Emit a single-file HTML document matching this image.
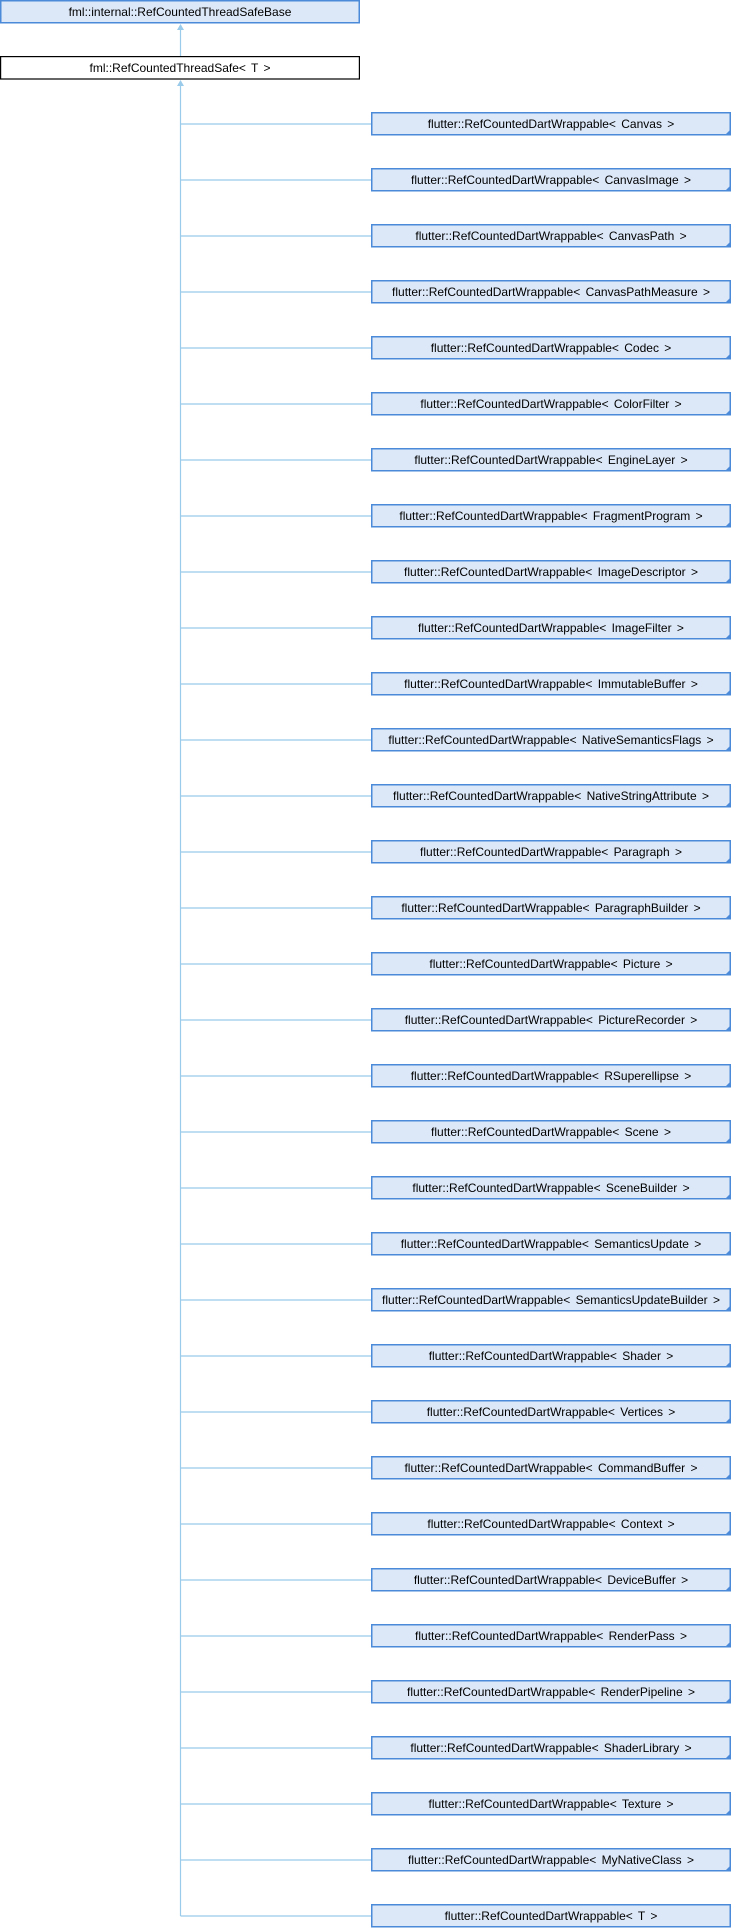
<!DOCTYPE html>
<html><head><meta charset="utf-8"><style>
html,body{margin:0;padding:0;background:#fff;}
svg{display:block;}
text{font-family:"Liberation Sans",sans-serif;font-size:12px;fill:#000;word-spacing:2px;}
.b{fill:#DCE8F8;stroke:#4A8AD8;stroke-width:1.5;}
.w{fill:#fff;stroke:#000;stroke-width:1.2;}
.l{stroke:#9BCBEA;stroke-width:1.2;fill:none;}
.c{fill:#4A8AD8;}
</style></head><body>
<svg width="732" height="1928" viewBox="0 0 732 1928" xmlns="http://www.w3.org/2000/svg">
<rect class="b" x="0.75" y="0.75" width="358.5" height="22"/>
<text x="180" y="16" text-anchor="middle">fml::internal::RefCountedThreadSafeBase</text>
<line class="l" x1="180.5" y1="26" x2="180.5" y2="56"/>
<polygon points="180.5,24 177,30 184,30" fill="#9BCBEA"/>
<rect class="w" x="0.6" y="56.6" width="358.8" height="22.4"/>
<text x="180" y="72" text-anchor="middle">fml::RefCountedThreadSafe&lt; T &gt;</text>
<line class="l" x1="180.5" y1="82" x2="180.5" y2="1916"/>
<polygon points="180.5,80 177,86 184,86" fill="#9BCBEA"/>
<path class="l" d="M180.5 124H371M180.5 180H371M180.5 236H371M180.5 292H371M180.5 348H371M180.5 404H371M180.5 460H371M180.5 516H371M180.5 572H371M180.5 628H371M180.5 684H371M180.5 740H371M180.5 796H371M180.5 852H371M180.5 908H371M180.5 964H371M180.5 1020H371M180.5 1076H371M180.5 1132H371M180.5 1188H371M180.5 1244H371M180.5 1300H371M180.5 1356H371M180.5 1412H371M180.5 1468H371M180.5 1524H371M180.5 1580H371M180.5 1636H371M180.5 1692H371M180.5 1748H371M180.5 1804H371M180.5 1860H371M180.5 1916H371"/>
<g id="g">
<rect class="b" x="371.75" y="112.75" width="358.5" height="22"/><polygon class="c" points="731,129 731,135 725,135"/><text x="551" y="128" text-anchor="middle">flutter::RefCountedDartWrappable&lt; Canvas &gt;</text>
<rect class="b" x="371.75" y="168.75" width="358.5" height="22"/><polygon class="c" points="731,185 731,191 725,191"/><text x="551" y="184" text-anchor="middle">flutter::RefCountedDartWrappable&lt; CanvasImage &gt;</text>
<rect class="b" x="371.75" y="224.75" width="358.5" height="22"/><polygon class="c" points="731,241 731,247 725,247"/><text x="551" y="240" text-anchor="middle">flutter::RefCountedDartWrappable&lt; CanvasPath &gt;</text>
<rect class="b" x="371.75" y="280.75" width="358.5" height="22"/><polygon class="c" points="731,297 731,303 725,303"/><text x="551" y="296" text-anchor="middle">flutter::RefCountedDartWrappable&lt; CanvasPathMeasure &gt;</text>
<rect class="b" x="371.75" y="336.75" width="358.5" height="22"/><polygon class="c" points="731,353 731,359 725,359"/><text x="551" y="352" text-anchor="middle">flutter::RefCountedDartWrappable&lt; Codec &gt;</text>
<rect class="b" x="371.75" y="392.75" width="358.5" height="22"/><polygon class="c" points="731,409 731,415 725,415"/><text x="551" y="408" text-anchor="middle">flutter::RefCountedDartWrappable&lt; ColorFilter &gt;</text>
<rect class="b" x="371.75" y="448.75" width="358.5" height="22"/><polygon class="c" points="731,465 731,471 725,471"/><text x="551" y="464" text-anchor="middle">flutter::RefCountedDartWrappable&lt; EngineLayer &gt;</text>
<rect class="b" x="371.75" y="504.75" width="358.5" height="22"/><polygon class="c" points="731,521 731,527 725,527"/><text x="551" y="520" text-anchor="middle">flutter::RefCountedDartWrappable&lt; FragmentProgram &gt;</text>
<rect class="b" x="371.75" y="560.75" width="358.5" height="22"/><polygon class="c" points="731,577 731,583 725,583"/><text x="551" y="576" text-anchor="middle">flutter::RefCountedDartWrappable&lt; ImageDescriptor &gt;</text>
<rect class="b" x="371.75" y="616.75" width="358.5" height="22"/><polygon class="c" points="731,633 731,639 725,639"/><text x="551" y="632" text-anchor="middle">flutter::RefCountedDartWrappable&lt; ImageFilter &gt;</text>
<rect class="b" x="371.75" y="672.75" width="358.5" height="22"/><polygon class="c" points="731,689 731,695 725,695"/><text x="551" y="688" text-anchor="middle">flutter::RefCountedDartWrappable&lt; ImmutableBuffer &gt;</text>
<rect class="b" x="371.75" y="728.75" width="358.5" height="22"/><polygon class="c" points="731,745 731,751 725,751"/><text x="551" y="744" text-anchor="middle">flutter::RefCountedDartWrappable&lt; NativeSemanticsFlags &gt;</text>
<rect class="b" x="371.75" y="784.75" width="358.5" height="22"/><polygon class="c" points="731,801 731,807 725,807"/><text x="551" y="800" text-anchor="middle">flutter::RefCountedDartWrappable&lt; NativeStringAttribute &gt;</text>
<rect class="b" x="371.75" y="840.75" width="358.5" height="22"/><polygon class="c" points="731,857 731,863 725,863"/><text x="551" y="856" text-anchor="middle">flutter::RefCountedDartWrappable&lt; Paragraph &gt;</text>
<rect class="b" x="371.75" y="896.75" width="358.5" height="22"/><polygon class="c" points="731,913 731,919 725,919"/><text x="551" y="912" text-anchor="middle">flutter::RefCountedDartWrappable&lt; ParagraphBuilder &gt;</text>
<rect class="b" x="371.75" y="952.75" width="358.5" height="22"/><polygon class="c" points="731,969 731,975 725,975"/><text x="551" y="968" text-anchor="middle">flutter::RefCountedDartWrappable&lt; Picture &gt;</text>
<rect class="b" x="371.75" y="1008.75" width="358.5" height="22"/><polygon class="c" points="731,1025 731,1031 725,1031"/><text x="551" y="1024" text-anchor="middle">flutter::RefCountedDartWrappable&lt; PictureRecorder &gt;</text>
<rect class="b" x="371.75" y="1064.75" width="358.5" height="22"/><polygon class="c" points="731,1081 731,1087 725,1087"/><text x="551" y="1080" text-anchor="middle">flutter::RefCountedDartWrappable&lt; RSuperellipse &gt;</text>
<rect class="b" x="371.75" y="1120.75" width="358.5" height="22"/><polygon class="c" points="731,1137 731,1143 725,1143"/><text x="551" y="1136" text-anchor="middle">flutter::RefCountedDartWrappable&lt; Scene &gt;</text>
<rect class="b" x="371.75" y="1176.75" width="358.5" height="22"/><polygon class="c" points="731,1193 731,1199 725,1199"/><text x="551" y="1192" text-anchor="middle">flutter::RefCountedDartWrappable&lt; SceneBuilder &gt;</text>
<rect class="b" x="371.75" y="1232.75" width="358.5" height="22"/><polygon class="c" points="731,1249 731,1255 725,1255"/><text x="551" y="1248" text-anchor="middle">flutter::RefCountedDartWrappable&lt; SemanticsUpdate &gt;</text>
<rect class="b" x="371.75" y="1288.75" width="358.5" height="22"/><polygon class="c" points="731,1305 731,1311 725,1311"/><text x="551" y="1304" text-anchor="middle">flutter::RefCountedDartWrappable&lt; SemanticsUpdateBuilder &gt;</text>
<rect class="b" x="371.75" y="1344.75" width="358.5" height="22"/><polygon class="c" points="731,1361 731,1367 725,1367"/><text x="551" y="1360" text-anchor="middle">flutter::RefCountedDartWrappable&lt; Shader &gt;</text>
<rect class="b" x="371.75" y="1400.75" width="358.5" height="22"/><polygon class="c" points="731,1417 731,1423 725,1423"/><text x="551" y="1416" text-anchor="middle">flutter::RefCountedDartWrappable&lt; Vertices &gt;</text>
<rect class="b" x="371.75" y="1456.75" width="358.5" height="22"/><polygon class="c" points="731,1473 731,1479 725,1479"/><text x="551" y="1472" text-anchor="middle">flutter::RefCountedDartWrappable&lt; CommandBuffer &gt;</text>
<rect class="b" x="371.75" y="1512.75" width="358.5" height="22"/><polygon class="c" points="731,1529 731,1535 725,1535"/><text x="551" y="1528" text-anchor="middle">flutter::RefCountedDartWrappable&lt; Context &gt;</text>
<rect class="b" x="371.75" y="1568.75" width="358.5" height="22"/><polygon class="c" points="731,1585 731,1591 725,1591"/><text x="551" y="1584" text-anchor="middle">flutter::RefCountedDartWrappable&lt; DeviceBuffer &gt;</text>
<rect class="b" x="371.75" y="1624.75" width="358.5" height="22"/><polygon class="c" points="731,1641 731,1647 725,1647"/><text x="551" y="1640" text-anchor="middle">flutter::RefCountedDartWrappable&lt; RenderPass &gt;</text>
<rect class="b" x="371.75" y="1680.75" width="358.5" height="22"/><polygon class="c" points="731,1697 731,1703 725,1703"/><text x="551" y="1696" text-anchor="middle">flutter::RefCountedDartWrappable&lt; RenderPipeline &gt;</text>
<rect class="b" x="371.75" y="1736.75" width="358.5" height="22"/><polygon class="c" points="731,1753 731,1759 725,1759"/><text x="551" y="1752" text-anchor="middle">flutter::RefCountedDartWrappable&lt; ShaderLibrary &gt;</text>
<rect class="b" x="371.75" y="1792.75" width="358.5" height="22"/><polygon class="c" points="731,1809 731,1815 725,1815"/><text x="551" y="1808" text-anchor="middle">flutter::RefCountedDartWrappable&lt; Texture &gt;</text>
<rect class="b" x="371.75" y="1848.75" width="358.5" height="22"/><polygon class="c" points="731,1865 731,1871 725,1871"/><text x="551" y="1864" text-anchor="middle">flutter::RefCountedDartWrappable&lt; MyNativeClass &gt;</text>
<rect class="b" x="371.75" y="1904.75" width="358.5" height="22"/><text x="551" y="1920" text-anchor="middle">flutter::RefCountedDartWrappable&lt; T &gt;</text>
</g>
</svg>
</body></html>
